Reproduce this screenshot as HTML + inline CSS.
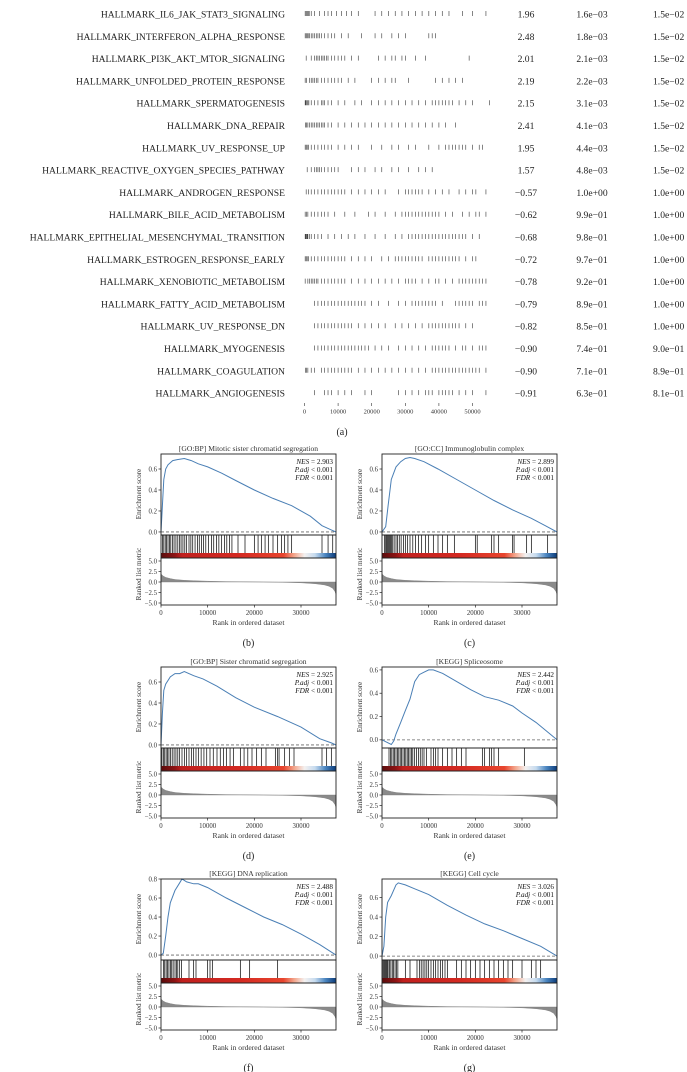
<!DOCTYPE html>
<html><head><meta charset="utf-8"><style>
html,body{margin:0;padding:0;background:#fff;}
svg{display:block;font-family:"Liberation Serif",serif;}
</style></head><body>
<svg id="fig" width="687" height="1072" viewBox="0 0 687 1072" xmlns="http://www.w3.org/2000/svg">
<defs>
<linearGradient id="rankgrad" x1="0" x2="1" y1="0" y2="0">
<stop offset="0" stop-color="#5a0c0c"/><stop offset="0.08" stop-color="#8e1414"/><stop offset="0.12" stop-color="#c0201e"/>
<stop offset="0.45" stop-color="#d42a22"/><stop offset="0.7" stop-color="#e8452e"/><stop offset="0.76" stop-color="#f3a48a"/>
<stop offset="0.82" stop-color="#f4f1f0"/><stop offset="0.88" stop-color="#c6dbef"/><stop offset="0.94" stop-color="#4a85c0"/><stop offset="1" stop-color="#0b3a78"/>
</linearGradient>
</defs>
<g id="table"></g>
<g id="panels"></g>
</svg>
<script>
// ---- Table data (panel a) ----
const hallmarkNames = ["HALLMARK_IL6_JAK_STAT3_SIGNALING","HALLMARK_INTERFERON_ALPHA_RESPONSE","HALLMARK_PI3K_AKT_MTOR_SIGNALING","HALLMARK_UNFOLDED_PROTEIN_RESPONSE","HALLMARK_SPERMATOGENESIS","HALLMARK_DNA_REPAIR","HALLMARK_UV_RESPONSE_UP","HALLMARK_REACTIVE_OXYGEN_SPECIES_PATHWAY","HALLMARK_ANDROGEN_RESPONSE","HALLMARK_BILE_ACID_METABOLISM","HALLMARK_EPITHELIAL_MESENCHYMAL_TRANSITION","HALLMARK_ESTROGEN_RESPONSE_EARLY","HALLMARK_XENOBIOTIC_METABOLISM","HALLMARK_FATTY_ACID_METABOLISM","HALLMARK_UV_RESPONSE_DN","HALLMARK_MYOGENESIS","HALLMARK_COAGULATION","HALLMARK_ANGIOGENESIS"];
const hallmarkNES = ["1.96","2.48","2.01","2.19","2.15","2.41","1.95","1.57","\u22120.57","\u22120.62","\u22120.68","\u22120.72","\u22120.78","\u22120.79","\u22120.82","\u22120.90","\u22120.90","\u22120.91"];
const hallmarkPval = ["1.6e\u221203","1.8e\u221203","2.1e\u221203","2.2e\u221203","3.1e\u221203","4.1e\u221203","4.4e\u221203","4.8e\u221203","1.0e+00","9.9e\u221201","9.8e\u221201","9.7e\u221201","9.2e\u221201","8.9e\u221201","8.5e\u221201","7.4e\u221201","7.1e\u221201","6.3e\u221201"];
const hallmarkPadj = ["1.5e\u221202","1.5e\u221202","1.5e\u221202","1.5e\u221202","1.5e\u221202","1.5e\u221202","1.5e\u221202","1.5e\u221202","1.0e+00","1.0e+00","1.0e+00","1.0e+00","1.0e+00","1.0e+00","1.0e+00","9.0e\u221201","8.9e\u221201","8.1e\u221201"];
// barcode hit positions (thousands of ranks)
const barcodeHits = [
[0.2,0.5,0.8,1.1,1.4,2,3,4.5,6,7,8,9.5,11,12.5,14,16,21,23,25,27,29,31,33,35,37,39,41,43,47,50,54],
[0.2,0.5,0.8,1.1,1.5,2,2.5,3,3.5,4,4.5,5,6,7,8,9,11,13,17,21,23,26,28,30,37,38,39],
[0.5,2,3,3.5,4,4.5,5,5.5,6,6.5,7,8,9,10,11,12,14,16,22,24,26,27,29,30,33,36,49],
[0.2,0.6,1.5,2,2.5,3,3.5,4,5,6,7,8,9,10,11,13,15,20,22,24,26,27,31,39,41,43,45,47],
[0.2,0.4,0.7,1,1.3,2,3,4,5,5.5,6,7,8,10,12,15,17,20,22,24,26,28,30,32,34,36,38,39,40,41,42,43,44,46,48,50,55],
[0.3,0.6,1,1.5,2,2.5,3,3.5,4,4.5,5,5.5,6,7,8,10,12,14,16,18,20,22,24,26,28,30,32,34,36,38,40,42,45],
[0.2,0.5,0.8,1.2,2,3,4,5,6,7,8,10,12,14,16,20,23,26,28,31,33,37,40,42,43,44,45,46,47,48,50,52,53],
[0.8,2,3,3.5,4,4.5,5,6,7,8,9,10,14,16,18,21,23,26,28,31,34,36,38],
[0.5,1.2,2,3,4,5,6,7,8,9,10,11,12,14,16,18,20,22,24,28,30,31,32,33,34,35,37,39,41,43,46,48,50,51,54],
[0.2,0.6,1,2,3,4,5,6,7,9,12,15,19,21,24,27,29,30,31,32,33,34,35,36,37,38,39,40,42,44,47,49,51,52,54],
[0.2,0.4,0.6,0.8,1,1.5,2,3,4,5,7,9,11,13,15,18,21,24,27,29,31,32,33,34,35,36,37,38,39,40,41,42,43,44,45,46,47,48,50,52],
[0.2,0.5,0.8,1.2,2,3,4,5,6,7,8,9,10,11,12,14,16,18,20,23,25,27,28,29,30,31,32,33,34,35,37,38,39,40,41,42,43,44,45,46,48,50,51],
[0.2,1,1.5,2,2.5,3,3.5,4,5,6,7,8,9,10,11,12,14,16,18,20,22,24,26,28,30,31,32,33,35,37,39,40,42,44,46,47,48,49,50,51,52,53,54],
[3,4,5,6,7,8,9,10,11,12,13,14,15,16,17,18,20,22,25,28,30,32,33,34,35,36,37,38,39,41,45,46,47,48,49,50,52,53,54],
[3,4,5,6,7,8,9,10,11,12,13,14,16,18,20,22,24,27,29,31,33,35,37,38,39,40,41,42,43,44,45,46,48,50],
[3,4,5,6,7,8,9,10,11,12,13,14,15,16,17,18,19,21,23,25,28,30,32,34,36,38,39,40,41,42,43,45,47,48,50,52,53,54],
[0.3,0.6,1,2,3,5,6,7,8,9,10,11,12,13,14,16,18,20,22,24,26,28,30,32,34,36,38,39,40,41,42,43,44,45,46,47,48,49,50,51,52,54],
[3,6,7,8,10,12,14,18,20,28,30,32,34,36,37,38,40,41,42,43,44,46,48,50,54]
];
const barcodeTicks = [0,10000,20000,30000,40000,50000];

// ---- GSEA panel data (b-g) ----
const panelTitles = ["[GO:BP] Mitotic sister chromatid segregation","[GO:CC] Immunoglobulin complex","[GO:BP] Sister chromatid segregation","[KEGG] Spliceosome","[KEGG] DNA replication","[KEGG] Cell cycle"];
const panelNES = ["2.903","2.899","2.925","2.442","2.488","3.026"];
const panelCaptions = ["(b)","(c)","(d)","(e)","(f)","(g)"];
const esRanks = [
[0,300,600,1000,1500,2500,3500,5000,6500,8000,10000,13000,16000,20000,24000,28000,32000,34500,36500,37500],
[0,800,1300,2000,3000,4000,5000,6000,7000,9000,12000,16000,20000,24000,28000,32000,35000,37500],
[0,300,600,1000,2000,3000,4000,5000,7000,9000,12000,16000,20000,25000,30000,34000,36500,37500],
[0,1000,2000,2500,3000,4000,5000,6000,7000,8000,9000,10000,11000,13000,16000,19000,22000,25000,28000,30000,33000,37500],
[0,500,1000,1500,2000,3000,4000,4500,5500,7000,8000,10000,14000,18000,22000,26000,30000,34000,37500],
[0,400,800,1200,2000,3000,3500,5000,7000,10000,14000,18000,22000,26000,30000,34000,37500]
];
const esScores = [
[0,0.25,0.5,0.6,0.64,0.68,0.69,0.70,0.68,0.65,0.62,0.56,0.49,0.40,0.32,0.25,0.15,0.06,0.02,0],
[0,0.05,0.25,0.5,0.62,0.67,0.70,0.71,0.70,0.67,0.60,0.50,0.40,0.30,0.21,0.13,0.06,0],
[0,0.3,0.52,0.58,0.65,0.68,0.68,0.70,0.66,0.63,0.56,0.45,0.36,0.27,0.17,0.06,0.02,0],
[0,-0.02,-0.04,-0.01,0.05,0.15,0.25,0.35,0.50,0.56,0.58,0.60,0.60,0.57,0.50,0.43,0.37,0.34,0.29,0.23,0.15,0],
[0,0.02,0.2,0.4,0.55,0.68,0.76,0.80,0.77,0.75,0.75,0.71,0.60,0.50,0.40,0.32,0.22,0.11,0],
[0,0.1,0.4,0.55,0.62,0.73,0.75,0.73,0.69,0.63,0.52,0.42,0.33,0.26,0.18,0.10,0]
];
const hitRanks = [
[0.3,0.6,0.9,1.2,1.5,1.8,2.1,2.5,2.8,3.2,3.6,4,4.3,4.7,5.1,5.5,6,6.4,6.8,7.3,7.8,8.2,8.7,9.1,9.6,10.2,10.8,11.3,11.9,12.4,13,13.6,14.1,14.7,15.2,16.5,18,20,20.8,21.5,22.3,23,24,25,25.8,26.5,27.2,28,34.5,35.8,36.8],
[0.5,0.8,1,1.2,1.4,1.6,1.8,2,2.3,2.6,3,3.3,3.7,4.1,4.6,5,5.5,6,6.6,7.2,7.8,8.5,9.3,10,11,12,13,14,15.5,20,20.4,23.5,24,25,28,28.3,31,32,35.5],
[0.2,0.5,0.8,1.1,1.4,1.7,2,2.4,2.8,3.2,3.6,4,4.5,5,5.5,6,6.5,7,7.5,8,8.6,9.2,9.8,10.5,11.2,12,12.7,13.4,14,14.8,15.5,17,17.8,18.6,19.5,20.5,21.5,22.5,24.5,25,25.3,26.5,27.5,28.5,34.5,35.5,36.5],
[1.5,1.8,2.1,2.4,2.7,3,3.3,3.6,3.9,4.2,4.5,4.8,5.1,5.4,5.7,6,6.3,6.6,7,7.4,7.8,8.2,8.6,9,9.5,10.5,11,11.5,12,13,14,15,16,17,18,21.5,22,23,23.5,24,25,30.5],
[0.5,0.8,1.1,1.4,1.7,2,2.3,2.6,3,3.3,3.6,4,4.4,6,7,7.5,10,10.5,11,17,19,25],
[0.1,0.3,0.5,0.7,0.9,1.1,1.3,1.6,1.9,2.2,2.5,2.8,3.1,3.4,5,6,7.5,8,8.4,8.8,9.2,9.6,10,10.5,11,11.5,12,12.5,13,13.5,14,16,17,18,19,20,21,22,23,24,25,26,27,28,30,32,33,34]
];
const esTicks = [[0,0.2,0.4,0.6],[0,0.2,0.4,0.6],[0,0.2,0.4,0.6],[0,0.2,0.4,0.6],[0,0.2,0.4,0.6,0.8],[0,0.2,0.4,0.6]];
const esMin = [-0.029,-0.029,-0.029,-0.07,-0.052,-0.04];
const esMax = [0.743,0.743,0.743,0.625,0.8,0.79];
const metricRanks = [0,500,1000,2000,3000,5000,7000,10000,14000,18000,22000,26000,30000,33000,35000,36000,36800,37300,37500];
const metricVals = [1.9,1.4,1.1,0.8,0.6,0.4,0.3,0.2,0.1,0.04,0,-0.06,-0.2,-0.4,-0.7,-1.0,-1.5,-2.3,-3.0];
const metricTicks = [5,2.5,0,-2.5,-5];
const rankTicks = [0,10000,20000,30000];

const NS = "http://www.w3.org/2000/svg";
function mk(tag, attrs, parent, text){
  const e = document.createElementNS(NS, tag);
  for (const k in attrs) e.setAttribute(k, attrs[k]);
  if (text !== undefined) e.textContent = text;
  parent.appendChild(e); return e;
}

// ---- Table ----
const table = document.getElementById('table');
const rowY = i => 14 + i * 22.3;
const bx = r => 304.5 + r * 33.6 / 10000;
hallmarkNames.forEach((nm, i) => {
  const y = rowY(i);
  const t = mk('text', {x: 285, y: y + 3.5, 'text-anchor': 'end', 'font-size': 9.6, fill: '#222'}, table, nm);
  
  
  const g = mk('g', {}, table);
  
  
  barcodeHits[i].forEach(h => {
    const l = mk('line', {x1: bx(h*1000), x2: bx(h*1000), y1: y - 3, y2: y + 2, stroke: '#333', 'stroke-width': 0.6}, g);
    
    
  });
  const n = mk('text', {x: 526, y: y + 3.5, 'text-anchor': 'middle', 'font-size': 9.6, fill: '#222'}, table, hallmarkNES[i]);
  
  
  const p = mk('text', {x: 592, y: y + 3.5, 'text-anchor': 'middle', 'font-size': 9.6, fill: '#222'}, table, hallmarkPval[i]);
  
  
  const q = mk('text', {x: 653, y: y + 3.5, 'font-size': 9.6, fill: '#222'}, table, hallmarkPadj[i]);
  
  
});
barcodeTicks.forEach(t => {
  mk('line', {x1: bx(t), x2: bx(t), y1: 403, y2: 406, stroke: '#333', 'stroke-width': 0.6}, table);
  const lb = mk('text', {x: bx(t), y: 413.5, 'text-anchor': 'middle', 'font-size': 6.5, fill: '#333'}, table, String(t));
  
  
});
const capA = mk('text', {x: 342, y: 435, 'text-anchor': 'middle', 'font-size': 10, fill: '#222'}, table, '(a)');



// ---- GSEA panels ----
const panelsG = document.getElementById('panels');
const origins = [[161,454],[382,454],[161,667],[382,667],[161,879],[382,879]];
const W = 175, XMAX = 37500;
panelTitles.forEach((title, p) => {
  const [ox, T] = origins[p];
  const g = mk('g', {}, panelsG);
  
  
  const xs = r => ox + r / XMAX * W;
  const ys = v => T + (esMax[p] - v) / (esMax[p] - esMin[p]) * 81;
  const ym = v => T + 128 - v * 4.2;
  const tt = mk('text', {x: ox + W/2, y: T - 3, 'text-anchor': 'middle', 'font-size': 7.6, fill: '#333'}, g, title);
  
  
  const pts = esRanks[p].map((r, k) => xs(r).toFixed(1) + ',' + ys(esScores[p][k]).toFixed(1)).join(' ');
  mk('line', {x1: ox, x2: ox + W, y1: ys(0), y2: ys(0), stroke: '#666', 'stroke-width': 0.8, 'stroke-dasharray': '3,2'}, g);
  const es = mk('polyline', {points: pts, fill: 'none', stroke: '#4a7fb5', 'stroke-width': 1}, g);
  
  
  const hg = mk('g', {}, g);
  
  
  hitRanks[p].forEach(h => {
    mk('line', {x1: xs(h*1000), x2: xs(h*1000), y1: T + 81, y2: T + 99, stroke: '#000', 'stroke-width': 0.7}, hg);
  });
  const band = mk('rect', {x: ox, y: T + 99, width: W, height: 5, fill: 'url(#rankgrad)'}, g);
  
  
  let mp = xs(0).toFixed(1) + ',' + ym(0).toFixed(1) + ' ';
  mp += metricRanks.map((r, k) => xs(r).toFixed(1) + ',' + ym(metricVals[k]).toFixed(1)).join(' ');
  mp += ' ' + xs(XMAX).toFixed(1) + ',' + ym(0).toFixed(1);
  const ma = mk('polygon', {points: mp, fill: '#8a8a8a', stroke: '#7a7a7a', 'stroke-width': 0.4}, g);
  
  
  mk('rect', {x: ox, y: T, width: W, height: 81, fill: 'none', stroke: '#222', 'stroke-width': 0.9}, g);
  mk('rect', {x: ox, y: T + 81, width: W, height: 23, fill: 'none', stroke: '#222', 'stroke-width': 0.9}, g);
  mk('rect', {x: ox, y: T + 104, width: W, height: 47, fill: 'none', stroke: '#222', 'stroke-width': 0.9}, g);
  esTicks[p].forEach(v => {
    mk('line', {x1: ox - 2.5, x2: ox, y1: ys(v), y2: ys(v), stroke: '#222', 'stroke-width': 0.7}, g);
    const l = mk('text', {x: ox - 4, y: ys(v) + 2.4, 'text-anchor': 'end', 'font-size': 6.8, fill: '#333'}, g, v.toFixed(1));
    
    
  });
  metricTicks.forEach(v => {
    mk('line', {x1: ox - 2.5, x2: ox, y1: ym(v), y2: ym(v), stroke: '#222', 'stroke-width': 0.7}, g);
    const l = mk('text', {x: ox - 4, y: ym(v) + 2.4, 'text-anchor': 'end', 'font-size': 6.8, fill: '#333'}, g, (v < 0 ? '\u2212' + (-v).toFixed(1) : v.toFixed(1)));
    
    
  });
  rankTicks.forEach(r => {
    mk('line', {x1: xs(r), x2: xs(r), y1: T + 151, y2: T + 153.5, stroke: '#222', 'stroke-width': 0.7}, g);
    const l = mk('text', {x: xs(r), y: T + 161, 'text-anchor': 'middle', 'font-size': 6.8, fill: '#333'}, g, String(r));
    
    
  });
  const yl1 = mk('text', {x: 0, y: 0, 'text-anchor': 'middle', 'font-size': 7.2, fill: '#333', transform: 'translate(' + (ox - 20) + ',' + (T + 40) + ') rotate(-90)'}, g, 'Enrichment score');
  
  
  const yl2 = mk('text', {x: 0, y: 0, 'text-anchor': 'middle', 'font-size': 7.2, fill: '#333', transform: 'translate(' + (ox - 20) + ',' + (T + 120) + ') rotate(-90)'}, g, 'Ranked list metric');
  
  
  const xl = mk('text', {x: ox + W/2, y: T + 171, 'text-anchor': 'middle', 'font-size': 7.6, fill: '#333'}, g, 'Rank in ordered dataset');
  
  
  const st = mk('text', {x: ox + W - 3, y: T + 10, 'text-anchor': 'end', 'font-size': 7.2, fill: '#111'}, g);
  
  
  mk('tspan', {'font-style': 'italic'}, st, 'NES');
  mk('tspan', {}, st, ' = ' + panelNES[p]);
  const s2 = mk('text', {x: ox + W - 3, y: T + 18, 'text-anchor': 'end', 'font-size': 7.2, fill: '#111'}, g);
  
  
  mk('tspan', {'font-style': 'italic'}, s2, 'P.adj');
  mk('tspan', {}, s2, ' < 0.001');
  const s3 = mk('text', {x: ox + W - 3, y: T + 26, 'text-anchor': 'end', 'font-size': 7.2, fill: '#111'}, g);
  
  
  mk('tspan', {'font-style': 'italic'}, s3, 'FDR');
  mk('tspan', {}, s3, ' < 0.001');
  const cap = mk('text', {x: ox + W/2, y: T + 192, 'text-anchor': 'middle', 'font-size': 10, fill: '#222'}, g, panelCaptions[p]);
  
  
});
</script>
</body></html>
